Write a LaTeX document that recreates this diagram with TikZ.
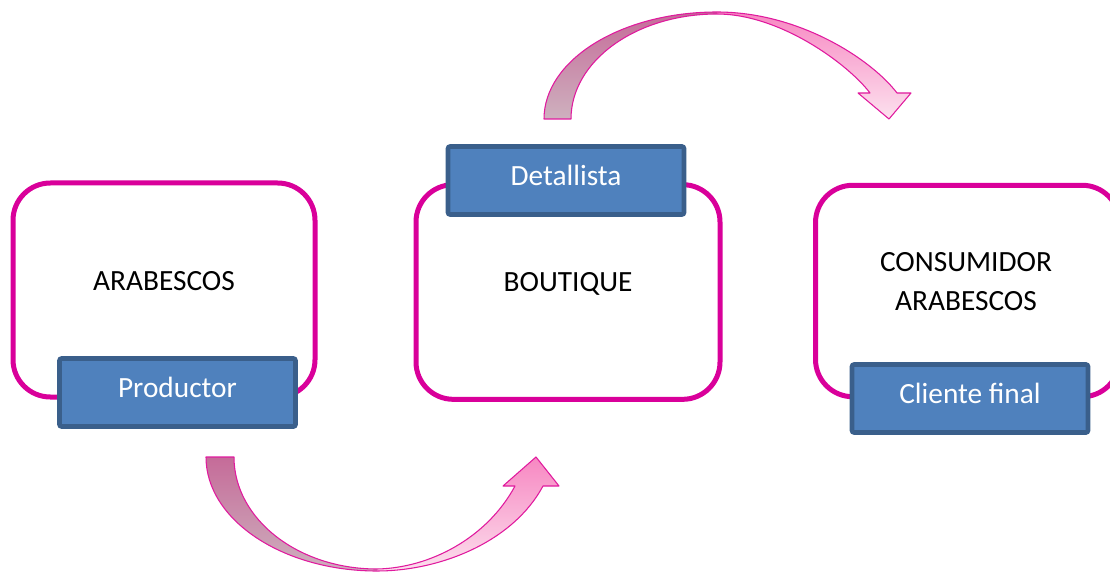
\documentclass[tikz,border=0pt]{standalone}
\usepackage{fontspec}
\setmainfont{Carlito}
\usetikzlibrary{positioning}

\definecolor{stageline}{HTML}{D9009A}
\definecolor{rolefill}{HTML}{4F81BD}
\definecolor{roleline}{HTML}{3A5F8B}
\definecolor{arrowline}{HTML}{E01A9E}
\definecolor{duskdark}{HTML}{C56A98}
\definecolor{dusklight}{HTML}{CEB2BF}
\definecolor{pinkdark}{HTML}{F786C1}
\definecolor{pinklight}{HTML}{FCE3EF}

\begin{document}
\begin{tikzpicture}
	[x=0.75pt, y=-0.75pt,%
	stage/.style  ={rectangle,	draw=stageline,	fill=white,		line width=3.75pt,	rounded corners=28pt,	inner sep=0pt},%
	role/.style   ={rectangle,	draw=roleline,	fill=rolefill,	line width=3.4pt,	rounded corners=1.5pt,	inner sep=0pt,	minimum width=177pt,	minimum height=51pt,	text=white,	font=\fontsize{22}{28.7}\selectfont,	text height=7.5pt,	text depth=0pt},%
	caption/.style={font=\fontsize{22}{28.7}\selectfont,	anchor=base,	align=center},%
	flow/.style   ={draw=arrowline,	line width=0.8pt,	line join=round},%
	]

	\useasboundingbox (0,0) rectangle (1110,574);
	\clip (0,0) rectangle (1110,574);

	\newcommand{\lowarrow}{(206,457) .. controls (206,520) and (283,571) .. (377,571)
		.. controls (440,571) and (513,542) .. (543,486)
		-- (559,486) -- (536,457) -- (503,486) -- (515,486)
		.. controls (487,538) and (430,568) .. (377,569)
		.. controls (298,569) and (234,519) .. (234,457) -- cycle}
	\newcommand{\higharrow}{(544,119) .. controls (544,60) and (621,12) .. (717,12)
		.. controls (800,12) and (872,60) .. (897,93)
		-- (911,93) -- (889,119) -- (858,93) -- (870,93)
		.. controls (848,64) and (780,14) .. (717,14)
		.. controls (636,14) and (571,61) .. (571,119) -- cycle}

	% stages
	\node (prod) at (164,290)   [stage, minimum width=226.5pt, minimum height=160.5pt] {};
	\node (shop) at (568,292)   [stage, minimum width=228pt,   minimum height=161pt] {};
	\node (cons) at (967.5,291) [stage, minimum width=228pt,   minimum height=158.6pt] {};

	\node (prodtxt) at (prod.center)            [caption] {ARABESCOS};
	\node (shoptxt) at ([yshift=0.4pt]shop.center) [caption] {BOUTIQUE};
	% base of a two-line caption sits on its last line
	\node (constxt) at (966,310)                [caption] {CONSUMIDOR\\ARABESCOS};

	% roles
	\node (prodrole) at (177.5,392.5) [role] {Productor};
	\node (shoprole) at (566,180.5)   [role] {Detallista};
	\node (consrole) at (970,398.5)   [role] {Cliente final};

	% flow arrows
	\begin{scope}
		\clip \lowarrow;
		\shade [top color=duskdark, bottom color=dusklight] (200,455) rectangle (377,575);
		\shade [top color=pinkdark, bottom color=pinklight] (377,455) rectangle (565,575);
	\end{scope}
	\draw [flow] \lowarrow;

	\begin{scope}
		\clip \higharrow;
		\shade [top color=duskdark, bottom color=dusklight] (540,10) rectangle (717,121);
		\shade [top color=pinkdark, bottom color=pinklight] (717,10) rectangle (915,121);
	\end{scope}
	\draw [flow] \higharrow;

\end{tikzpicture}
\end{document}
